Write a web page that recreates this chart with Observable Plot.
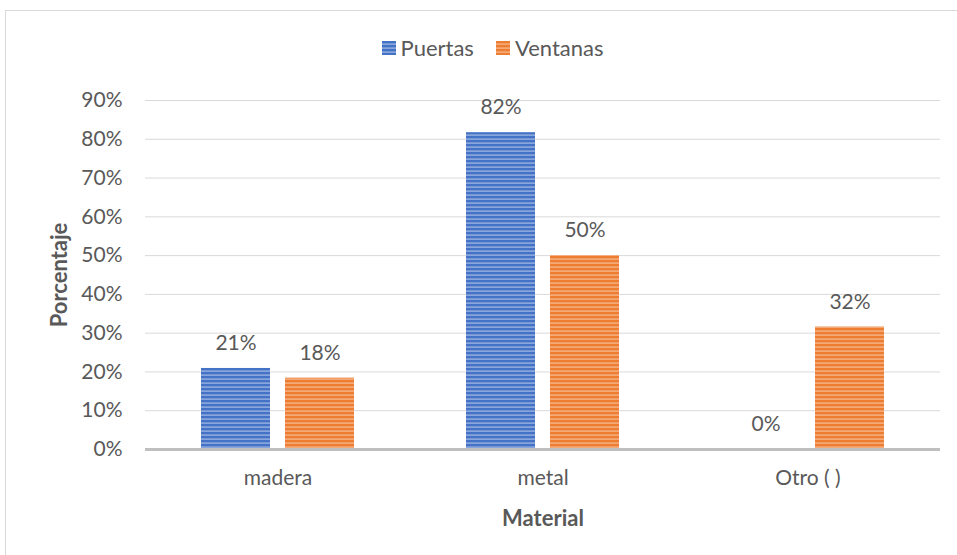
<!DOCTYPE html>
<html>
<head>
<meta charset="utf-8">
<script src="https://cdn.jsdelivr.net/npm/d3@7"></script>
<script src="https://cdn.jsdelivr.net/npm/@observablehq/plot@0.6"></script>
<style>
  body { margin: 0; background: #fff; font-family: Lato, "Open Sans", sans-serif; }
  #wrap { position: relative; width: 957px; height: 555px; overflow: hidden; }
  #border { position: absolute; left: 5px; top: 10px; width: 970px; height: 570px; border: 1px solid #d9d9d9; box-sizing: border-box; }
  #legend { position: absolute; top: 34px; left: 14px; width: 957px; text-align: center; font-size: 22px; color: #595959; line-height: 26px; }
  #legend span.item { display: inline-flex; align-items: center; margin: 0 11px; }
  #legend svg { margin-right: 5px; }
  #chart { position: absolute; left: 0; top: 0; }
</style>
</head>
<body>
<div id="wrap">
  <div id="border"></div>
  <div id="legend"></div>
  <div id="chart"></div>
</div>
<script>
const categories = ["madera", "metal", "Otro ( )"];
const series = ["Puertas", "Ventanas"];
const puertas = [20.9, 81.7, 0];
const ventanas = [18.4, 50.0, 31.6];
const puertasLabels = ["21%", "82%", "0%"];
const ventanasLabels = ["18%", "50%", "32%"];
const yTicks = [0, 10, 20, 30, 40, 50, 60, 70, 80, 90];

const colors = {Puertas: "#4472C4", Ventanas: "#ED7D31"};
const light = {Puertas: "#a6bce6", Ventanas: "#f6bd96"};
const patId = {Puertas: "stripeP", Ventanas: "stripeV"};

const rowsP = categories.map((c, i) => ({cat: c, value: puertas[i], label: puertasLabels[i]}));
const rowsV = categories.map((c, i) => ({cat: c, value: ventanas[i], label: ventanasLabels[i]}));

const textColor = "#595959";
const font = "Lato, 'Open Sans', sans-serif";
const fs = 21;

const chart = Plot.plot({
  width: 957,
  height: 555,
  marginLeft: 145,
  marginRight: 17,
  marginTop: 100,
  marginBottom: 106,
  style: {fontFamily: font, color: textColor, background: "transparent", overflow: "visible"},
  x: {domain: categories, paddingInner: 0.4226, paddingOuter: 0.2113, axis: null},
  y: {domain: [0, 90], axis: null},
  marks: [
    Plot.gridY(yTicks, {stroke: "#d9d9d9", strokeOpacity: 1, strokeWidth: 1}),
    Plot.barY(rowsP, {x: "cat", y: "value", fill: "url(#stripeP)", insetRight: 84}),
    Plot.barY(rowsV, {x: "cat", y: "value", fill: "url(#stripeV)", insetLeft: 84}),
    Plot.ruleY([0], {stroke: "#bfbfbf", strokeWidth: 3}),
    Plot.text(rowsP, {x: "cat", y: "value", text: "label", dx: -42, dy: -25, fontSize: fs, fill: textColor}),
    Plot.text(rowsV, {x: "cat", y: "value", text: "label", dx: 42, dy: -25, fontSize: fs, fill: textColor}),
    Plot.axisY(yTicks, {tickSize: 0, tickPadding: 23, tickFormat: d => d + "%", fontSize: fs, label: null, fill: textColor}),
    Plot.axisX({tickSize: 0, tickPadding: 21, fontSize: fs, label: null, fill: textColor}),
    Plot.text(["Porcentaje"], {frameAnchor: "left", textAnchor: "middle", lineAnchor: "middle", dx: -86, rotate: -90, fontSize: 22, fontWeight: "bold", fill: textColor}),
    Plot.text(["Material"], {frameAnchor: "bottom", textAnchor: "middle", lineAnchor: "middle", dy: 69, fontSize: 22, fontWeight: "bold", fill: textColor})
  ]
});

// stripe patterns
const svg = d3.select(chart);
const defs = svg.insert("defs", ":first-child");
for (const s of series) {
  const p = defs.append("pattern").attr("id", patId[s]).attr("patternUnits", "userSpaceOnUse")
    .attr("width", 8).attr("height", 4);
  p.append("rect").attr("width", 8).attr("height", 4).attr("fill", colors[s]);
  p.append("rect").attr("y", 2.5).attr("width", 8).attr("height", 1.2).attr("fill", light[s]);
}
document.getElementById("chart").appendChild(chart);

// legend
const legend = d3.select("#legend");
for (const s of series) {
  const item = legend.append("span").attr("class", "item");
  const sw = item.append("svg").attr("width", 14).attr("height", 14);
  const d = sw.append("defs").append("pattern").attr("id", patId[s] + "L").attr("patternUnits", "userSpaceOnUse")
    .attr("width", 8).attr("height", 4);
  d.append("rect").attr("width", 8).attr("height", 4).attr("fill", colors[s]);
  d.append("rect").attr("y", 2.5).attr("width", 8).attr("height", 1.2).attr("fill", light[s]);
  sw.append("rect").attr("width", 14).attr("height", 14).attr("fill", `url(#${patId[s]}L)`);
  item.append("span").text(s);
}
</script>
</body>
</html>
